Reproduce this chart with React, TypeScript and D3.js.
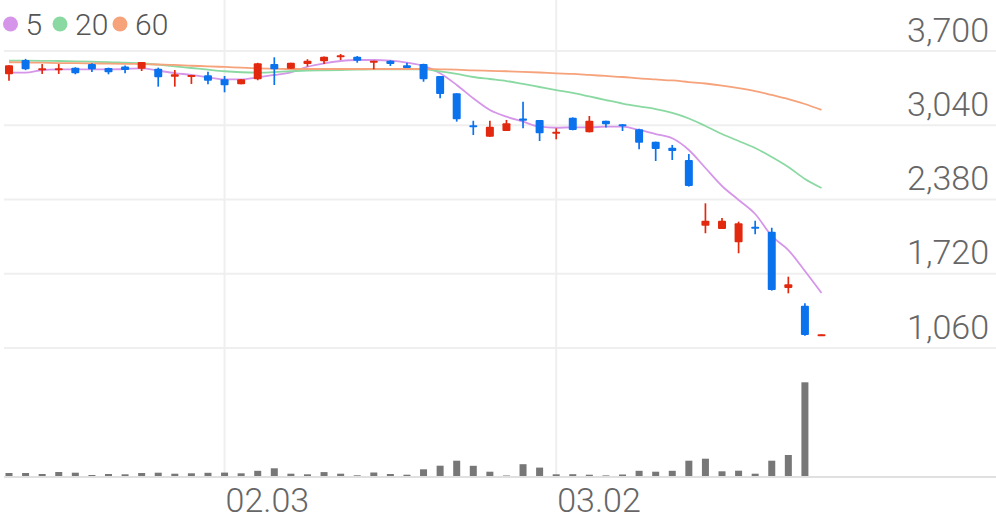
import React from "react";
import * as d3 from "d3";

const W = 996;
const H = 519;

const openP = [3493,3620,3531,3531,3552,3584,3549,3562,3543,3543,3472,3472,3484,3448,3404,3448,3584,3543,3584,3608,3644,3649,3596,3614,3573,3584,3478,3324,3040,2938,2989,3101,3087,2968,3107,2977,3080,3048,3004,2894,2840,2731,2147,2118,2000,2138,2094,1593,1436,1176];
const highP = [3573,3630,3584,3584,3555,3591,3552,3571,3602,3552,3531,3487,3516,3478,3448,3595,3644,3596,3627,3652,3673,3655,3614,3617,3596,3587,3478,3324,3080,3080,3087,3249,3087,3013,3110,3122,3080,3051,3010,2894,2865,2784,2346,2216,2183,2191,2129,1694,1457,1182];
const lowP = [3436,3530,3496,3496,3493,3513,3493,3502,3522,3383,3383,3407,3404,3333,3404,3440,3398,3543,3562,3584,3620,3596,3537,3567,3549,3427,3280,3072,2953,2938,2989,3013,2900,2915,2995,2977,3021,2989,2826,2722,2731,2495,2080,2118,1902,2071,1570,1546,1170,1176];
const closeP = [3573,3537,3546,3546,3502,3537,3511,3531,3602,3466,3493,3487,3436,3395,3448,3591,3537,3596,3614,3649,3662,3614,3614,3584,3549,3448,3318,3093,3027,3027,3057,3080,2968,2983,2998,3080,3048,3033,2885,2829,2811,2500,2191,2191,2168,2124,1576,1626,1176,1182];

const ma5 = [3507,3507,3531,3536,3537,3537,3537,3540,3546,3525,3504,3487,3466,3448,3448,3466,3487,3511,3560,3591,3611,3620,3620,3614,3596,3567,3502,3398,3280,3176,3116,3072,3027,3018,3022,3022,3027,3027,2998,2962,2924,2820,2660,2500,2376,2251,2056,1931,1744,1549];
const ma20 = [3614,3614,3613,3611,3608,3605,3602,3596,3591,3578,3564,3549,3534,3520,3511,3507,3513,3520,3525,3528,3531,3534,3536,3537,3537,3536,3518,3496,3469,3451,3433,3407,3380,3353,3327,3296,3264,3233,3207,3184,3149,3100,3033,2962,2900,2838,2758,2669,2562,2482];
const ma60 = [3600,3598,3596,3593,3592,3590,3588,3586,3584,3580,3576,3569,3564,3558,3552,3546,3543,3540,3540,3540,3540,3540,3540,3540,3540,3540,3537,3534,3528,3524,3520,3515,3509,3502,3496,3487,3478,3469,3456,3447,3438,3424,3411,3393,3371,3344,3309,3273,3229,3176];

const volume = [300,300,200,400,330,100,200,170,300,330,230,270,320,340,270,520,770,230,170,390,230,70,350,200,130,670,1030,1530,1020,430,50,1180,840,170,180,130,60,150,520,430,520,1530,1730,470,530,230,1530,2100,9370,0];

const priceTicks = [1060, 1720, 2380, 3040, 3700];
const xTickIndex = [13, 33];
const xTickLabels = ["02.03", "03.02"];

const maSeries = [
  { name: "5", values: ma5, color: "#d596ea" },
  { name: "20", values: ma20, color: "#8ad9a2" },
  { name: "60", values: ma60, color: "#f6a27b" },
];

const UP = "#e2290f";
const DOWN = "#0b72ee";
const FONT = "Roboto, 'Noto Sans', sans-serif";

export default function App() {
  const idx = d3.range(closeP.length);
  const x = d3.scaleLinear().domain([0, closeP.length - 1]).range([9, 821.5]);
  const y = d3.scaleLinear().domain([1060, 3700]).range([348, 51]);
  const yv = d3.scaleLinear().domain([0, 10000]).range([476, 376]);
  const fmt = d3.format(",");

  const line = (vals: number[]) =>
    d3
      .line<number>()
      .x((_, i) => x(i))
      .y((v) => y(v))
      .curve(d3.curveMonotoneX)(vals) || "";

  const bodyW = 8;
  const volW = 7;

  return (
    <svg
      width={W}
      height={H}
      style={{ position: "absolute", left: 0, top: 0, background: "#fff" }}
      fontFamily={FONT}
    >
      {priceTicks.map((t) => (
        <line key={t} x1={4} x2={W} y1={y(t)} y2={y(t)} stroke="#efefef" strokeWidth={2} />
      ))}
      {xTickIndex.map((i) => (
        <line key={i} x1={x(i)} x2={x(i)} y1={0} y2={476} stroke="#efefef" strokeWidth={2} />
      ))}
      <line x1={4} x2={W} y1={477} y2={477} stroke="#e0e0e0" strokeWidth={2} />

      {idx.map((i) => (
        <rect
          key={"v" + i}
          x={x(i) - volW / 2}
          y={yv(volume[i])}
          width={volW}
          height={476 - yv(volume[i])}
          fill="#777777"
        />
      ))}

      {maSeries.map((s) => (
        <path key={s.name} d={line(s.values)} fill="none" stroke={s.color} strokeWidth={1.8} />
      ))}

      {idx.map((i) => {
        const up = closeP[i] >= openP[i];
        const c = up ? UP : DOWN;
        const top = y(Math.max(openP[i], closeP[i]));
        const bot = y(Math.min(openP[i], closeP[i]));
        const h = Math.max(2, bot - top);
        return (
          <g key={"c" + i}>
            <line x1={x(i)} x2={x(i)} y1={y(highP[i])} y2={y(lowP[i])} stroke={c} strokeWidth={1.7} />
            <rect x={x(i) - bodyW / 2} y={top} width={bodyW} height={h} fill={c} rx={1} />
          </g>
        );
      })}

      {priceTicks.map((t) => (
        <text
          key={"t" + t}
          x={989}
          y={y(t) - 9.5}
          textAnchor="end"
          fontSize={34}
          fontWeight={300}
          fill="#666"
        >
          {fmt(t)}
        </text>
      ))}

      {xTickIndex.map((i, k) => (
        <text key={"d" + i} x={x(i) + 1} y={512} fontSize={34} fontWeight={300} fill="#666">
          {xTickLabels[k]}
        </text>
      ))}

      {maSeries.map((s, k) => {
        const cx = [10.5, 60, 120][k];
        return (
          <g key={"lg" + s.name}>
            <circle cx={cx} cy={24} r={7.5} fill={s.color} />
            <text x={cx + 15} y={35} fontSize={30} fontWeight={300} fill="#555">
              {s.name}
            </text>
          </g>
        );
      })}
    </svg>
  );
}
